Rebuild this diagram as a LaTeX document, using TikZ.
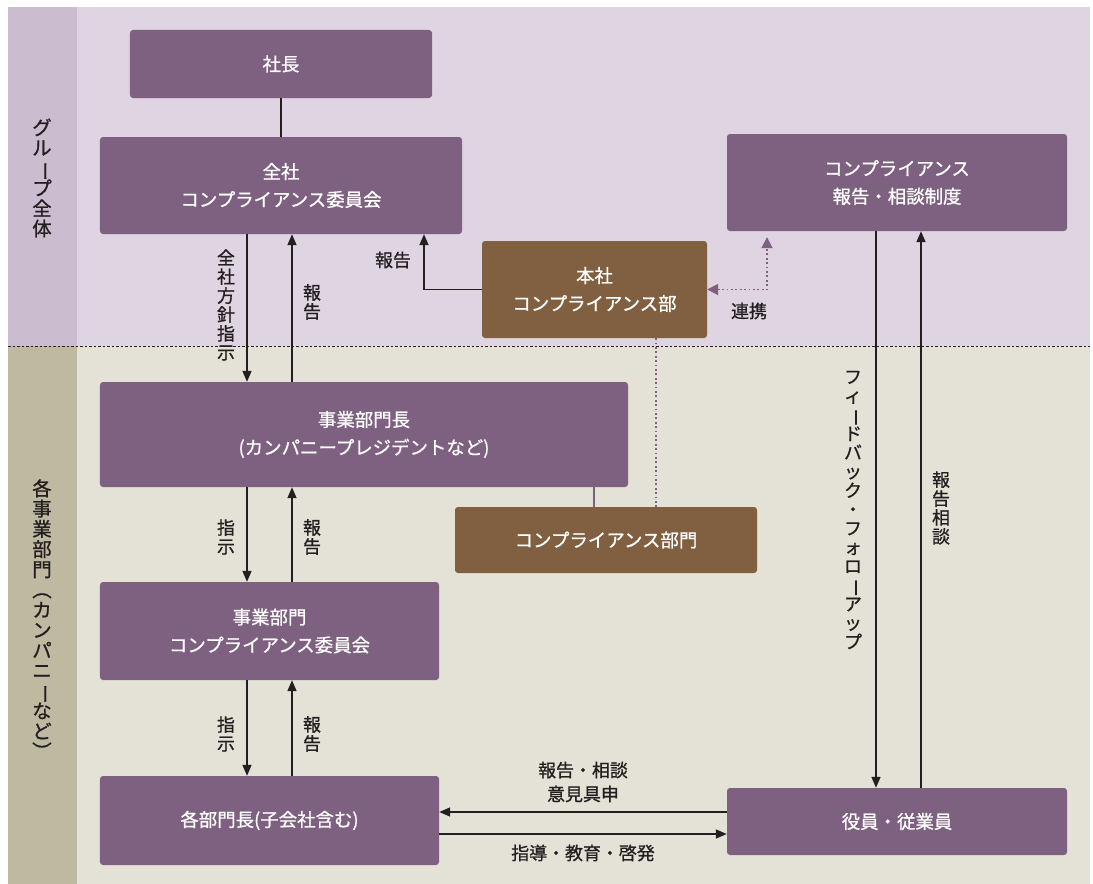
\documentclass[tikz,border=0pt]{standalone}
\usepackage{fontspec}
\usepackage{graphicx}
\setmainfont{Noto Sans CJK JP}[FakeBold=0.9]
\usetikzlibrary{arrows.meta,calc}
\definecolor{topbg}{RGB}{223,212,225}
\definecolor{topleft}{RGB}{203,188,207}
\definecolor{botbg}{RGB}{228,225,214}
\definecolor{botleft}{RGB}{191,185,161}
\definecolor{pbox}{RGB}{126,96,128}
\definecolor{bbox}{RGB}{128,96,64}
\definecolor{ink}{RGB}{35,31,32}
\newcommand{\vbar}{\smash{\rotatebox[origin=c]{-90}{ー}}}
\newcommand{\vlp}{\smash{\rotatebox[origin=c]{-90}{（}}}
\newcommand{\vrp}{\smash{\rotatebox[origin=c]{-90}{）}}}
\tikzset{
  boxbase/.style={rounded corners=3bp, text=white, align=center, inner sep=0pt,
    font=\fontsize{18.5}{28}\selectfont},
  pbx/.style={boxbase, fill=pbox},
  bbx/.style={boxbase, fill=bbox},
  lbl/.style={text=ink, align=center, inner sep=0pt, font=\fontsize{18}{24}\selectfont},
  vlbl/.style={text=ink, align=center, inner sep=0pt, font=\fontsize{18}{19}\selectfont},
  sidelbl/.style={text=ink, align=center, inner sep=0pt, font=\fontsize{19.5}{20.3}\selectfont},
  arr/.style={draw=ink, line width=1.6bp, -{Triangle[length=11bp,width=9bp]}},
  plain/.style={draw=ink, line width=1.6bp},
  dotp/.style={draw=pbox, line width=1.8bp, dash pattern=on 1.8bp off 2.6bp},
}
\begin{document}
\begin{tikzpicture}[x=1bp,y=-1bp]
\useasboundingbox (0,0) rectangle (1093,884);
% backgrounds
\fill[topbg] (77,7) rectangle (1090,346);
\fill[topleft] (8,7) rectangle (77,346);
\fill[botbg] (77,346) rectangle (1090,884);
\fill[botleft] (8,346) rectangle (77,884);
\draw[ink, line width=0.8bp, dash pattern=on 2.5bp off 2bp] (8,346) -- (1090,346);
% side labels
\node[sidelbl] (sideA) at (42,178) {グ\\ル\\\vbar\\プ\\全\\体};
\node[sidelbl] (sideB) at (42,619) {各\\事\\業\\部\\門\\\vlp\\カ\\ン\\パ\\ニ\\\vbar\\な\\ど\\\vrp};
% boxes
\node[pbx, minimum width=302bp, minimum height=68bp] (shacho) at (281,64) {社長};
\node[pbx, minimum width=362bp, minimum height=97bp] (zensha) at (281,185.5) {全社\\コンプライアンス委員会};
\node[pbx, minimum width=340bp, minimum height=97bp] (seido) at (897,182.5) {コンプライアンス\\報告・相談制度};
\node[bbx, minimum width=225bp, minimum height=97bp] (honsha) at (594.5,289.5) {本社\\コンプライアンス部};
\node[pbx, minimum width=528bp, minimum height=105bp] (bucho) at (364,434.5) {事業部門長\\(カンパニープレジデントなど)};
\node[bbx, minimum width=302bp, minimum height=66bp] (compb) at (606,540) {コンプライアンス部門};
\node[pbx, minimum width=339bp, minimum height=98bp] (jiin) at (269.5,631) {事業部門\\コンプライアンス委員会};
\node[pbx, minimum width=339bp, minimum height=89bp] (kaku) at (269.5,820.5) {各部門長(子会社含む)};
\node[pbx, minimum width=340bp, minimum height=67bp] (yaku) at (897,821.5) {役員・従業員};
% helper coordinates
\coordinate (xa) at (247,0);
\coordinate (xb) at (292,0);
\coordinate (xc) at (424,0);
\coordinate (xd) at (767,0);
\coordinate (xe) at (656,0);
\coordinate (xf) at (594,0);
\coordinate (xg) at (876,0);
\coordinate (xh) at (921,0);
\coordinate (ya) at (0,812);
\coordinate (yb) at (0,834);
% connectors
\draw[plain] (shacho) -- (zensha);
\draw[arr] (zensha.south -| xa) -- (bucho.north -| xa);
\draw[arr] (bucho.north -| xb) -- (zensha.south -| xb);
\draw[arr] (honsha.west) -| (zensha.south -| xc);
\draw[dotp, {Triangle[length=11bp,width=11bp]}-{Triangle[length=11bp,width=11bp]}, shorten >=6bp] (honsha.east) -| (seido.south -| xd);
\draw[dotp] (honsha.south -| xe) -- (compb.north -| xe);
\draw[draw=pbox, line width=1.6bp] (bucho.south -| xf) -- (compb.north -| xf);
\draw[arr] (bucho.south -| xa) -- (jiin.north -| xa);
\draw[arr] (jiin.north -| xb) -- (bucho.south -| xb);
\draw[arr] (jiin.south -| xa) -- (kaku.north -| xa);
\draw[arr] (kaku.north -| xb) -- (jiin.south -| xb);
\draw[arr] (seido.south -| xg) -- (yaku.north -| xg);
\draw[arr] (yaku.north -| xh) -- (seido.south -| xh);
\draw[arr] (yaku.west |- ya) -- (kaku.east |- ya);
\draw[arr] (kaku.east |- yb) -- (yaku.west |- yb);
% labels
\node[vlbl] (l1) at (226,305) {全\\社\\方\\針\\指\\示};
\node[vlbl] (l2) at (312,302) {報\\告};
\node[lbl] (l3) at (393,260) {報告};
\node[lbl] (l4) at (749,311) {連携};
\node[vlbl] (l5) at (226,537) {指\\示};
\node[vlbl] (l6) at (312,537) {報\\告};
\node[vlbl] (l7) at (226,734) {指\\示};
\node[vlbl] (l8) at (312,734) {報\\告};
\node[vlbl] (l9) at (853,510) {フ\\ィ\\\vbar\\ド\\バ\\ッ\\ク\\・\\フ\\ォ\\ロ\\\vbar\\ア\\ッ\\プ};
\node[vlbl] (l10) at (941,508) {報\\告\\相\\談};
\node[lbl] (l11) at (583,782) {報告・相談\\意見具申};
\node[lbl] (l12) at (583,853) {指導・教育・啓発};
\end{tikzpicture}
\end{document}
